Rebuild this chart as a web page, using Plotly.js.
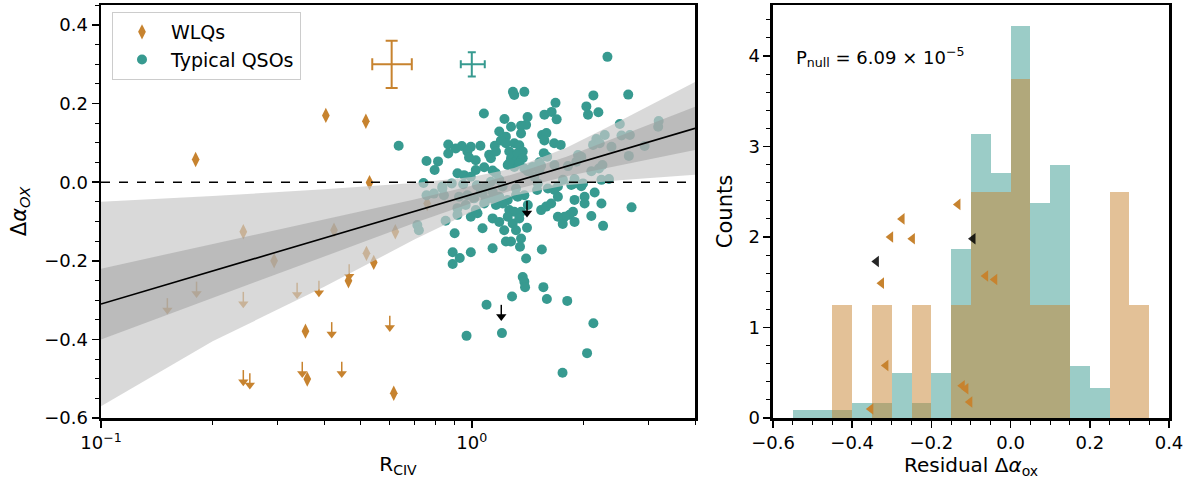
<!DOCTYPE html>
<html><head><meta charset="utf-8">
<script src="https://cdn.plot.ly/plotly-3.0.1.min.js"></script>
<style>html,body{margin:0;padding:0;background:#fff}#plot{width:1194px;height:485px}</style>
</head><body><div id="plot"></div>
<script>
// ---------------- DATA ----------------
// Typical QSOs (detections)
const qsoR = [2.322,1.291,1.302,1.386,2.128,2.642,1.682,2.037,2.058,2.195,
1.078,1.570,1.642,1.694,1.414,1.225,3.192,3.182,2.507,1.401,
1.358,1.276,1.186,1.236,1.358,1.548,1.590,1.570,0.635,0.864,
0.940,0.994,1.055,1.154,1.198,1.236,1.302,1.343,1.372,1.668,
1.737,2.168,2.283,2.534,2.669,2.124,2.213,2.381,2.925,0.864,
0.905,0.973,0.983,1.025,1.114,1.126,1.162,1.262,1.276,1.316,
1.250,1.330,1.372,1.564,1.597,1.934,1.974,2.652,0.755,0.811,
0.794,0.915,0.953,1.025,1.080,1.138,1.162,1.302,1.343,1.262,
1.386,1.416,1.522,1.538,1.671,1.817,1.914,1.460,1.522,2.101,
2.202,2.251,1.761,1.893,1.995,2.237,2.344,1.475,1.507,1.707,
1.855,1.974,0.741,0.833,0.883,0.948,1.032,1.091,0.994,1.126,
1.186,0.755,0.790,0.841,0.833,0.924,0.973,1.014,1.069,1.091,
1.138,1.186,1.250,1.316,1.386,1.058,1.138,1.211,1.316,1.500,
1.604,1.671,1.707,1.893,2.015,2.145,1.893,0.915,0.963,1.025,
1.080,1.162,1.211,1.262,1.302,1.330,1.416,1.358,1.538,1.587,
1.637,2.015,2.237,2.697,1.875,1.835,1.779,1.707,1.759,1.893,
2.101,2.260,1.409,0.915,0.994,1.036,0.850,1.138,1.186,1.250,
1.289,1.343,1.069,1.223,1.316,0.899,1.236,1.276,1.358,1.138,
1.349,0.888,0.994,0.928,0.888,1.401,1.545,1.372,1.386,1.392,
1.560,1.594,1.284,1.809,1.096,0.968,1.206,2.128,2.046,1.757,
0.713,0.720];
const qsoDaox = [0.319,0.230,0.222,0.230,0.221,0.223,0.202,0.193,0.172,0.178,
0.175,0.172,0.179,0.160,0.166,0.161,0.156,0.141,0.148,0.146,
0.144,0.141,0.129,0.116,0.124,0.120,0.125,0.106,0.093,0.096,
0.092,0.090,0.093,0.093,0.106,0.099,0.099,0.094,0.078,0.099,
0.095,0.110,0.120,0.119,0.120,0.095,0.099,0.090,0.092,0.073,
0.086,0.078,0.063,0.056,0.070,0.061,0.078,0.078,0.061,0.052,
0.044,0.074,0.061,0.074,0.065,0.069,0.065,0.067,0.054,0.053,
0.031,0.023,0.018,0.031,0.038,0.030,0.023,0.039,0.048,0.048,
0.035,0.028,0.051,0.042,0.044,0.041,0.052,0.039,0.031,0.028,
0.035,0.044,0.006,0.008,-0.003,0.006,0.008,0.014,-0.003,-0.011,
-0.007,-0.010,-0.002,-0.011,-0.003,-0.005,-0.008,-0.011,0.014,0.001,
0.006,-0.033,-0.029,-0.033,-0.016,-0.037,-0.033,-0.041,-0.028,-0.045,
-0.041,-0.037,-0.045,-0.033,-0.033,-0.024,-0.024,-0.011,-0.016,-0.020,
-0.016,-0.020,-0.037,-0.003,-0.037,-0.026,-0.045,-0.066,-0.058,-0.071,
-0.054,-0.058,-0.054,-0.071,-0.075,-0.037,-0.058,-0.075,-0.071,-0.062,
-0.054,-0.054,-0.054,-0.064,-0.075,-0.083,-0.088,-0.088,-0.106,-0.101,
-0.086,-0.111,-0.116,-0.083,-0.088,-0.079,-0.098,-0.092,-0.101,-0.088,
-0.105,-0.092,-0.117,-0.122,-0.122,-0.130,-0.151,-0.151,-0.143,-0.168,
-0.164,-0.178,-0.178,-0.193,-0.208,-0.194,-0.171,-0.241,-0.253,-0.267,
-0.267,-0.297,-0.291,-0.302,-0.312,-0.391,-0.384,-0.359,-0.435,-0.485,
-0.109,-0.122];
// Typical QSOs (upper limits)
const qsoLimR = [1.409, 1.201];
const qsoLimDaox = [-0.048, -0.312];
// WLQs (detections)
const wlqR = [0.180,0.404,0.518,0.530,0.242,0.425,0.293,0.622,0.520,0.544,0.465,0.356,0.360,0.616,0.758];
const wlqDaox = [0.058,0.170,0.155,-0.001,-0.126,-0.122,-0.200,-0.126,-0.181,-0.204,-0.251,-0.379,-0.501,-0.537,-0.054];
// WLQs (upper limits)
const wlqLimR = [0.151,0.181,0.242,0.338,0.387,0.467,0.601,0.419,0.349,0.446,0.242,0.252];
const wlqLimDaox = [-0.295,-0.253,-0.279,-0.256,-0.251,-0.209,-0.340,-0.356,-0.457,-0.457,-0.478,-0.486];
// Best fit and confidence bands
const fitR = [0.1, 4.0];
const fitDaox = [-0.310, 0.137];
const bandR = [0.1, 0.2, 0.4, 0.7, 1.0, 1.3, 1.8, 2.5, 4.0];
const outerUp = [-0.050,-0.035,-0.018,-0.002,0.013,0.036,0.088,0.155,0.255];
const outerLo = [-0.570,-0.405,-0.266,-0.146,-0.075,-0.034,-0.008,0.005,0.019];
const innerUp = [-0.220,-0.158,-0.095,-0.044,-0.009,0.021,0.065,0.117,0.192];
const innerLo = [-0.400,-0.294,-0.189,-0.104,-0.053,-0.019,0.015,0.043,0.082];
// Representative error bars
const errWlq = {r:0.608, d:0.30, rMinus:0.069, rPlus:0.081, dErr:0.06};
const errQso = {r:1.0, d:0.30, rMinus:0.066, rPlus:0.084, dErr:0.031};
// Histogram of residuals (normalised counts), bin width 0.05
const tealBins = [-0.525,-0.475,-0.425,-0.375,-0.325,-0.275,-0.225,-0.175,-0.125,-0.075,-0.025,0.025,0.075,0.125,0.175,0.225];
const tealCounts = [0.083,0.083,0.083,0.167,0.167,0.5,0.167,0.5,1.87,3.14,2.71,4.33,2.38,2.80,0.58,0.33];
const wlqBins = [-0.425,-0.325,-0.225,-0.125,-0.075,-0.025,0.025,0.075,0.125,0.275,0.325];
const wlqCounts = [1.25,1.25,1.25,1.25,2.5,2.5,3.75,1.25,1.25,2.5,1.25];
// Limit markers on histogram panel
const triRes = [-0.133,-0.274,-0.303,-0.248,-0.326,-0.063,-0.040,-0.315,-0.122,-0.113,-0.103,-0.353];
const triY = [2.36,2.20,2.00,1.98,1.49,1.57,1.53,0.58,0.356,0.323,0.176,0.099];
const triBlackRes = [-0.095,-0.339];
const triBlackY = [1.98,1.73];
const pNullText = 'P<sub>null</sub> = 6.09 × 10<sup>−5</sup>';

// ---------------- STYLE ----------------
const TEAL = '#379a90', ORANGE = '#c7832f';
const FONT = 'DejaVu Sans';

function stems(R, D, len) {
  const x = [], y = [];
  R.forEach((r, i) => { x.push(r, r, null); y.push(D[i], D[i] - len, null); });
  return {x, y};
}
function heads(R, D, off) { return {x: R.slice(), y: D.map(v => v - off)}; }

const traces = [];
traces.push({type:'scatter', mode:'markers', x:wlqR, y:wlqDaox, name:'WLQs',
  marker:{symbol:'diamond-tall', size:11, color:ORANGE, line:{width:0}}, xaxis:'x', yaxis:'y'});
traces.push({type:'scatter', mode:'markers', x:qsoR, y:qsoDaox, name:'Typical QSOs',
  marker:{symbol:'circle', size:10, color:TEAL, line:{width:0}}, xaxis:'x', yaxis:'y'});

const sW = stems(wlqLimR, wlqLimDaox, 0.026), hW = heads(wlqLimR, wlqLimDaox, 0.030);
traces.push({type:'scatter', mode:'lines', x:sW.x, y:sW.y, line:{color:ORANGE, width:1.5}, showlegend:false, hoverinfo:'skip'});
traces.push({type:'scatter', mode:'markers', x:hW.x, y:hW.y, marker:{symbol:'triangle-down', size:9, color:ORANGE}, showlegend:false});
const sQ = stems(qsoLimR, qsoLimDaox, 0.026), hQ = heads(qsoLimR, qsoLimDaox, 0.030);
traces.push({type:'scatter', mode:'lines', x:sQ.x, y:sQ.y, line:{color:'black', width:1.5}, showlegend:false, hoverinfo:'skip'});
traces.push({type:'scatter', mode:'markers', x:hQ.x, y:hQ.y, marker:{symbol:'triangle-down', size:9, color:'black'}, showlegend:false});

// bands (drawn above points so points appear faded)
traces.push({type:'scatter', mode:'lines', x:bandR.concat(bandR.slice().reverse()),
  y:outerUp.concat(outerLo.slice().reverse()), fill:'toself', fillcolor:'rgba(200,200,200,0.69)',
  line:{width:0}, showlegend:false, hoverinfo:'skip'});
traces.push({type:'scatter', mode:'lines', x:bandR.concat(bandR.slice().reverse()),
  y:innerUp.concat(innerLo.slice().reverse()), fill:'toself', fillcolor:'rgba(150,150,150,0.45)',
  line:{width:0}, showlegend:false, hoverinfo:'skip'});
traces.push({type:'scatter', mode:'lines', x:fitR, y:fitDaox, line:{color:'black', width:1.6}, showlegend:false});

// representative error bars
[[errWlq, ORANGE, 6], [errQso, TEAL, 4]].forEach(([e, c, w]) => {
  traces.push({type:'scatter', mode:'markers', x:[e.r], y:[e.d], marker:{size:1, color:'rgba(0,0,0,0)'},
    error_x:{type:'data', symmetric:false, array:[e.rPlus], arrayminus:[e.rMinus], color:c, thickness:2, width:w},
    error_y:{type:'data', array:[e.dErr], color:c, thickness:2, width:w}, showlegend:false, hoverinfo:'skip'});
});

// histogram panel
traces.push({type:'bar', x:tealBins, y:tealCounts, width:0.05, marker:{color:'rgba(55,154,144,0.5)', line:{width:0}},
  xaxis:'x2', yaxis:'y2', showlegend:false});
traces.push({type:'bar', x:wlqBins, y:wlqCounts, width:0.05, marker:{color:'rgba(199,131,47,0.5)', line:{width:0}},
  xaxis:'x2', yaxis:'y2', showlegend:false});
traces.push({type:'scatter', mode:'markers', x:triRes, y:triY, marker:{symbol:'triangle-left', size:10, color:ORANGE},
  xaxis:'x2', yaxis:'y2', showlegend:false});
traces.push({type:'scatter', mode:'markers', x:triBlackRes, y:triBlackY, marker:{symbol:'triangle-left', size:10, color:'rgba(0,0,0,0.85)'},
  xaxis:'x2', yaxis:'y2', showlegend:false});

const axBase = {showline:true, linewidth:2.5, linecolor:'black', mirror:true, ticks:'outside', ticklen:7, tickwidth:1.5,
  tickcolor:'black', showgrid:false, zeroline:false, tickfont:{size:18, family:FONT, color:'black'}};

const layout = {
  width:1194, height:485, margin:{l:101, r:25, t:5, b:67}, paper_bgcolor:'white', plot_bgcolor:'white',
  font:{family:FONT, color:'black'}, barmode:'overlay', bargap:0,
  xaxis: Object.assign({}, axBase, {type:'log', range:[-1, Math.log10(4)], domain:[0, 0.5562], anchor:'y',
    tickvals:[0.1, 1], ticktext:['10<sup>−1</sup>', '10<sup>0</sup>'],
    minor:{tickvals:[0.2,0.3,0.4,0.5,0.6,0.7,0.8,0.9,2,3,4], ticks:'outside', ticklen:4, tickwidth:1, tickcolor:'black'},
    title:{text:'R<sub>CIV</sub>', font:{size:20, family:FONT}, standoff:5}}),
  yaxis: Object.assign({}, axBase, {range:[-0.6, 0.451], anchor:'x', tick0:0, dtick:0.2, tickformat:'.1f',
    minor:{dtick:0.05, ticks:'outside', ticklen:4, tickwidth:1, tickcolor:'black'},
    title:{text:'Δ<i>α</i><sub><i>OX</i></sub>', font:{size:21, family:FONT}, standoff:12}}),
  xaxis2: Object.assign({}, axBase, {range:[-0.6, 0.4], domain:[0.6292, 1], anchor:'y2', tick0:0, dtick:0.2, tickformat:'.1f',
    minor:{dtick:0.05, ticks:'outside', ticklen:4, tickwidth:1, tickcolor:'black'},
    title:{text:'Residual Δ<i>α</i><sub>ox</sub>', font:{size:20, family:FONT}, standoff:5}}),
  yaxis2: Object.assign({}, axBase, {range:[0, 4.563], anchor:'x2', tick0:0, dtick:1,
    minor:{dtick:0.2, ticks:'outside', ticklen:4, tickwidth:1, tickcolor:'black'},
    title:{text:'Counts', font:{size:21, family:FONT}, standoff:10}}),
  legend:{x:0.0103, y:0.983, xanchor:'left', yanchor:'top', bgcolor:'rgba(255,255,255,0.8)', bordercolor:'#cccccc',
    borderwidth:1, font:{size:19, family:FONT}, tracegroupgap:0, itemwidth:48},
  shapes:[{type:'line', xref:'x domain', yref:'y', x0:0, x1:1, y0:0, y1:0, line:{color:'black', width:1.5, dash:'dash'}, layer:'above'}],
  annotations:[{xref:'x2 domain', yref:'y2 domain', x:0.053, y:0.874, xanchor:'left', yanchor:'middle', showarrow:false,
    text:pNullText, font:{size:18, family:FONT}}]
};

Plotly.newPlot('plot', traces, layout, {displayModeBar:false, staticPlot:true});
</script></body></html>
